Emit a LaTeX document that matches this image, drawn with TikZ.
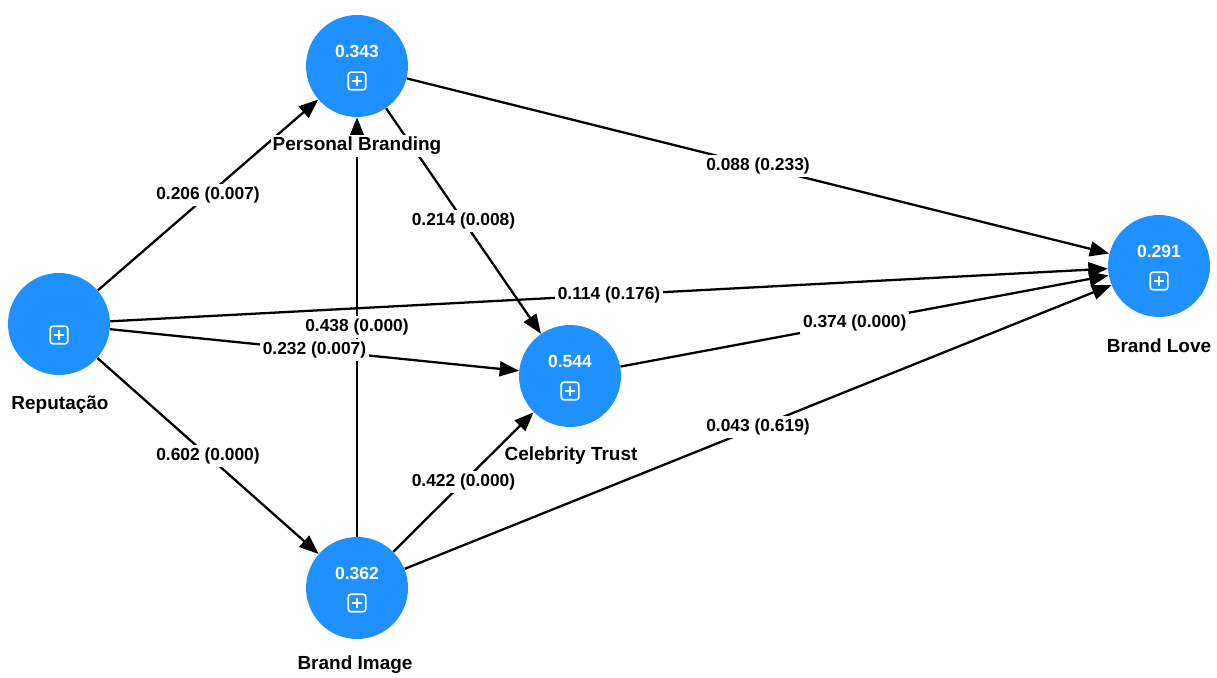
\documentclass[tikz,border=0pt]{standalone}
\usepackage{fontspec}
\setmainfont{Liberation Sans}
\usepackage{tikz}
\usetikzlibrary{shapes,arrows.meta}
\definecolor{plsblue}{RGB}{30,144,255}
\tikzstyle{construct} = [circle, fill=plsblue, minimum size=2.04cm, inner sep=0pt]
\tikzstyle{rsq} = [text=white, inner sep=0pt, font=\fontsize{10}{12}\selectfont\bfseries]
\tikzstyle{expandbox} = [draw=white, line width=0.9pt, rounded corners=1.6pt, minimum size=10pt, inner sep=0pt,
path picture={\draw[white, line width=0.9pt]
([yshift=3pt]path picture bounding box.center) -- ([yshift=-3pt]path picture bounding box.center)
([xshift=-3pt]path picture bounding box.center) -- ([xshift=3pt]path picture bounding box.center);}]
\tikzstyle{lvname} = [fill=white, inner sep=1pt, font=\fontsize{10.8}{13}\selectfont\bfseries]
\tikzstyle{coef} = [fill=white, inner sep=1.5pt, font=\fontsize{9.9}{12}\selectfont\bfseries]
\tikzstyle{line} = [draw, line width=1.3pt, -{Triangle[length=11pt, width=8.5pt]}]

\begin{document}
\begin{tikzpicture}[x=0.02cm, y=-0.02cm]
		\useasboundingbox (0,0) rectangle (1217,678);
		\node [construct] (rep) at (59,324) {};
		\node [construct] (pb) at (357,66) {};
		\node [construct] (ct) at (570,376) {};
		\node [construct] (bi) at (357,588) {};
		\node [construct] (bl) at (1159,266) {};
		
		\path [line] (bi) -- (pb) node [coef, midway] (c1) {0.438 (0.000)};
		\path [line] (rep) -- (pb) node [coef, midway] (c2) {0.206 (0.007)};
		\path [line] (rep) -- (bi) node [coef, midway] (c3) {0.602 (0.000)};
		\path [line] (rep) -- (ct) node [coef, midway] (c4) {0.232 (0.007)};
		\path [line] (rep) -- (bl) node [coef, midway] (c5) {0.114 (0.176)};
		\path [line] (pb) -- (ct) node [coef, midway] (c6) {0.214 (0.008)};
		\path [line] (pb) -- (bl) node [coef, midway] (c7) {0.088 (0.233)};
		\path [line] (bi) -- (ct) node [coef, midway] (c8) {0.422 (0.000)};
		\path [line] (bi) -- (bl) node [coef, midway] (c9) {0.043 (0.619)};
		\path [line] (ct) -- (bl) node [coef, pos=0.48] (c10) {0.374 (0.000)};
		
		\node [rsq] (pbval) at (357,51) {0.343};
		\node [rsq] (ctval) at (570,361) {0.544};
		\node [rsq] (bival) at (357,573) {0.362};
		\node [rsq] (blval) at (1159,251) {0.291};
		\node [expandbox] (repbox) at (59,335) {};
		\node [expandbox] (pbbox) at (357,81) {};
		\node [expandbox] (ctbox) at (570,391) {};
		\node [expandbox] (bibox) at (357,603) {};
		\node [expandbox] (blbox) at (1159,281) {};
		
		\node [lvname] (repname) at (60,405) {Reputação};
		\node [lvname] (pbname) at (357,146) {Personal Branding};
		\node [lvname] (ctname) at (571,456) {Celebrity Trust};
		\node [lvname] (biname) at (355,665) {Brand Image};
		\node [lvname] (blname) at (1159,346) {Brand Love};
\end{tikzpicture}
\end{document}
